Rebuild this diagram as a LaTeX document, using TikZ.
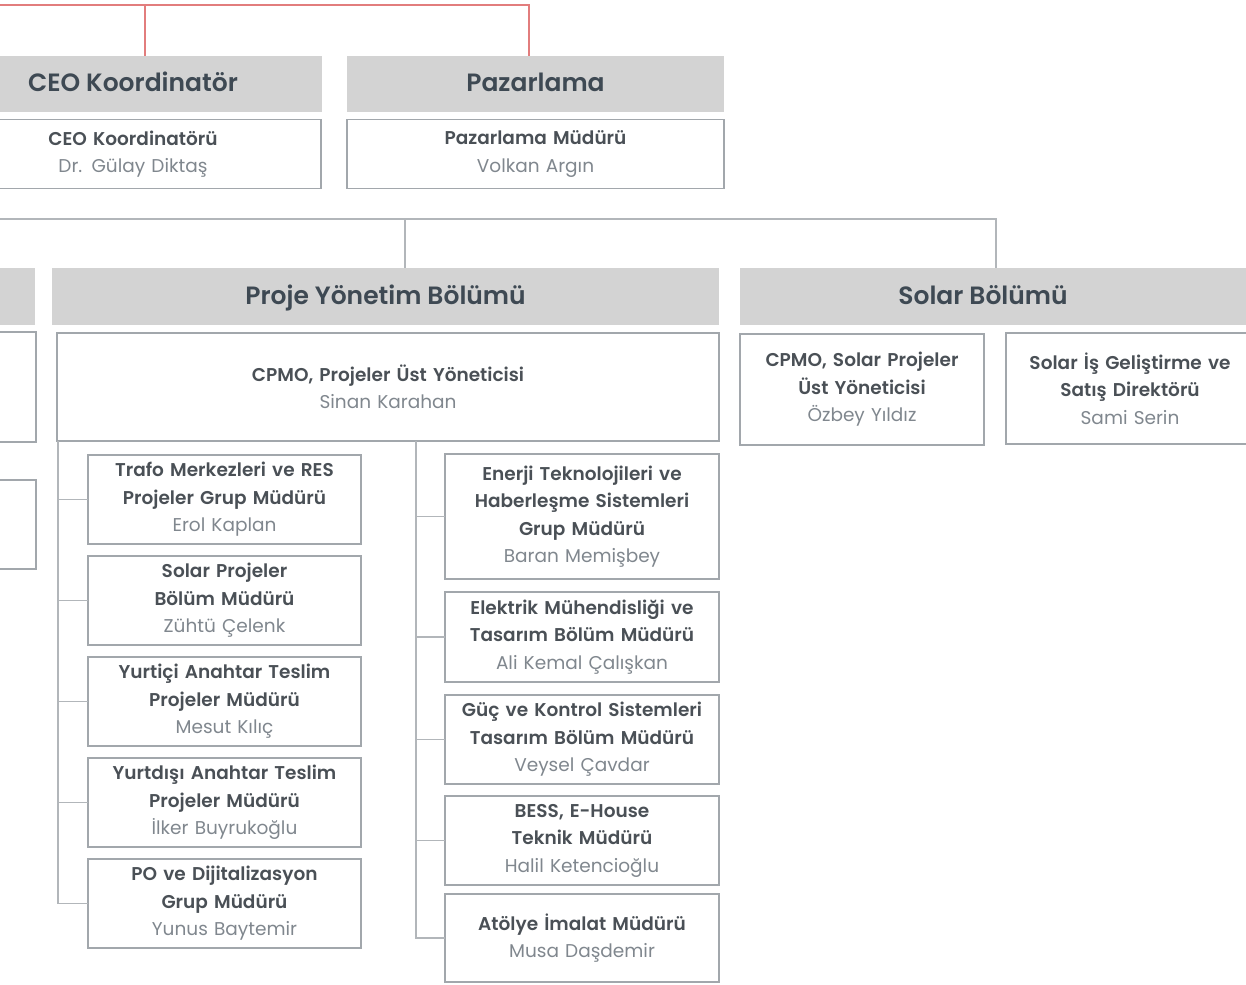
\documentclass[tikz,border=0pt]{standalone}
\usepackage{fontspec}
\setmainfont{Poppins}[BoldFont={Poppins SemiBold}]
\usetikzlibrary{positioning}

\definecolor{hdrgray}{HTML}{D3D3D3}
\definecolor{hdrtext}{HTML}{3E4953}
\definecolor{titlec}{HTML}{4A5056}
\definecolor{namec}{HTML}{80878E}
\definecolor{boxline}{HTML}{A2A7AC}
\definecolor{connline}{HTML}{B2B6BA}
\definecolor{redline}{HTML}{E27D7D}

\newcommand{\kisi}[2]{{\bfseries\color{titlec}#1}\\{\color{namec}#2}}

\begin{document}
\begin{tikzpicture}[x=1pt, y=-1pt,
  header/.style={fill=hdrgray, text=hdrtext, minimum height=57pt, inner sep=0pt, outer sep=0pt,
    text height=20pt, text depth=4pt, font=\fontsize{25}{27}\selectfont\bfseries},
  person/.style={draw=boxline, line width=1.6pt, fill=white, inner sep=0pt, outer sep=0pt, align=center,
    font=\fontsize{18.5}{27.5}\selectfont},
  leftbox/.style={person, minimum width=273pt, minimum height=89pt, text width=268pt},
  rightbox/.style={person, minimum width=274pt, minimum height=89pt, text width=269pt},
  conn/.style={draw=connline, line width=1.5pt},
  redcon/.style={draw=redline, line width=1.5pt}
]
\useasboundingbox (0,0) rectangle (1246,984);

% ust kademe
\node[header, minimum width=378pt, minimum height=56pt] (ceo) at (133,84) {CEO Koordinatör};
\node[header, minimum width=377pt, minimum height=56pt] (paz) at (535.5,84) {Pazarlama};
\node[person, minimum width=376pt, minimum height=69pt, text width=360pt] (ceosub) at (133,154)
  {\kisi{CEO Koordinatörü}{Dr. Gülay Diktaş}};
\node[person, minimum width=377pt, minimum height=69pt, text width=360pt] (pazsub) at (535.5,154)
  {\kisi{Pazarlama Müdürü}{Volkan Argın}};

% bolumler
\node[header, minimum width=85pt] (solhdr) at (-7.5,296) {};
\node[person, minimum width=86pt, minimum height=110pt] (solsub1) at (-7,387) {};
\node[person, minimum width=86pt, minimum height=89pt] (solsub2) at (-7,524.5) {};

\node[header, minimum width=667pt] (proje) at (385.5,296) {Proje Yönetim Bölümü};
\node[header, minimum width=520pt] (solar) at (1000,296) {Solar Bölümü\hspace*{34pt}};

\node[person, minimum width=662pt, minimum height=108pt, text width=640pt] (cpmo) at (388,387)
  {\kisi{CPMO, Projeler Üst Yöneticisi}{Sinan Karahan}};
\node[person, minimum width=244pt, minimum height=111pt, text width=240pt] (sp1) at (862,389.5)
  {\kisi{CPMO, Solar Projeler\\Üst Yöneticisi}{Özbey Yıldız}};
\node[person, minimum width=248pt, minimum height=111pt, text width=244pt] (sp2) at (1130,388.5)
  {\kisi{Solar İş Geliştirme ve\\Satış Direktörü}{Sami Serin}};

% sol kolon
\node[leftbox] (t1) at (224.5,499.5) {\kisi{Trafo Merkezleri ve RES\\Projeler Grup Müdürü}{Erol Kaplan}};
\node[leftbox, below=12pt of t1] (t2) {\kisi{Solar Projeler\\Bölüm Müdürü}{Zühtü Çelenk}};
\node[leftbox, below=12pt of t2] (t3) {\kisi{Yurtiçi Anahtar Teslim\\Projeler Müdürü}{Mesut Kılıç}};
\node[leftbox, below=12pt of t3] (t4) {\kisi{Yurtdışı Anahtar Teslim\\Projeler Müdürü}{İlker Buyrukoğlu}};
\node[leftbox, below=12pt of t4] (t5) {\kisi{PO ve Dijitalizasyon\\Grup Müdürü}{Yunus Baytemir}};

% sag kolon
\node[rightbox, minimum height=125pt] (r1) at (582,516.5)
  {\kisi{Enerji Teknolojileri ve\\Haberleşme Sistemleri\\Grup Müdürü}{Baran Memişbey}};
\node[rightbox, below=13pt of r1, minimum height=90pt] (r2) {\kisi{Elektrik Mühendisliği ve\\Tasarım Bölüm Müdürü}{Ali Kemal Çalışkan}};
\node[rightbox, below=13pt of r2] (r3) {\kisi{Güç ve Kontrol Sistemleri\\Tasarım Bölüm Müdürü}{Veysel Çavdar}};
\node[rightbox, below=12pt of r3] (r4) {\kisi{BESS, E-House\\Teknik Müdürü}{Halil Ketencioğlu}};
\node[rightbox, below=9pt of r4, minimum height=88pt] (r5) {\kisi{Atölye İmalat Müdürü}{Musa Daşdemir}};

% baglantilar
\coordinate (kirmizi) at (-5,5);
\draw[redcon] (kirmizi) -| ([xshift=-6.5]paz.north);
\draw[redcon] ([xshift=12]ceo.north |- kirmizi) -- ([xshift=12]ceo.north);

\coordinate (gribus) at (-5,219);
\draw[conn] (gribus) -| ([xshift=-4]solar.north);
\draw[conn] ([xshift=19.5]proje.north |- gribus) -- ([xshift=19.5]proje.north);

\coordinate (solkol) at (58,441);
\foreach \n in {t1,t2,t3,t4,t5}
  \draw[conn] (solkol) |- (\n.west);
\coordinate (sagkol) at (416,441);
\foreach \n in {r1,r2,r3,r4,r5}
  \draw[conn] (sagkol) |- (\n.west);
\end{tikzpicture}
\end{document}
